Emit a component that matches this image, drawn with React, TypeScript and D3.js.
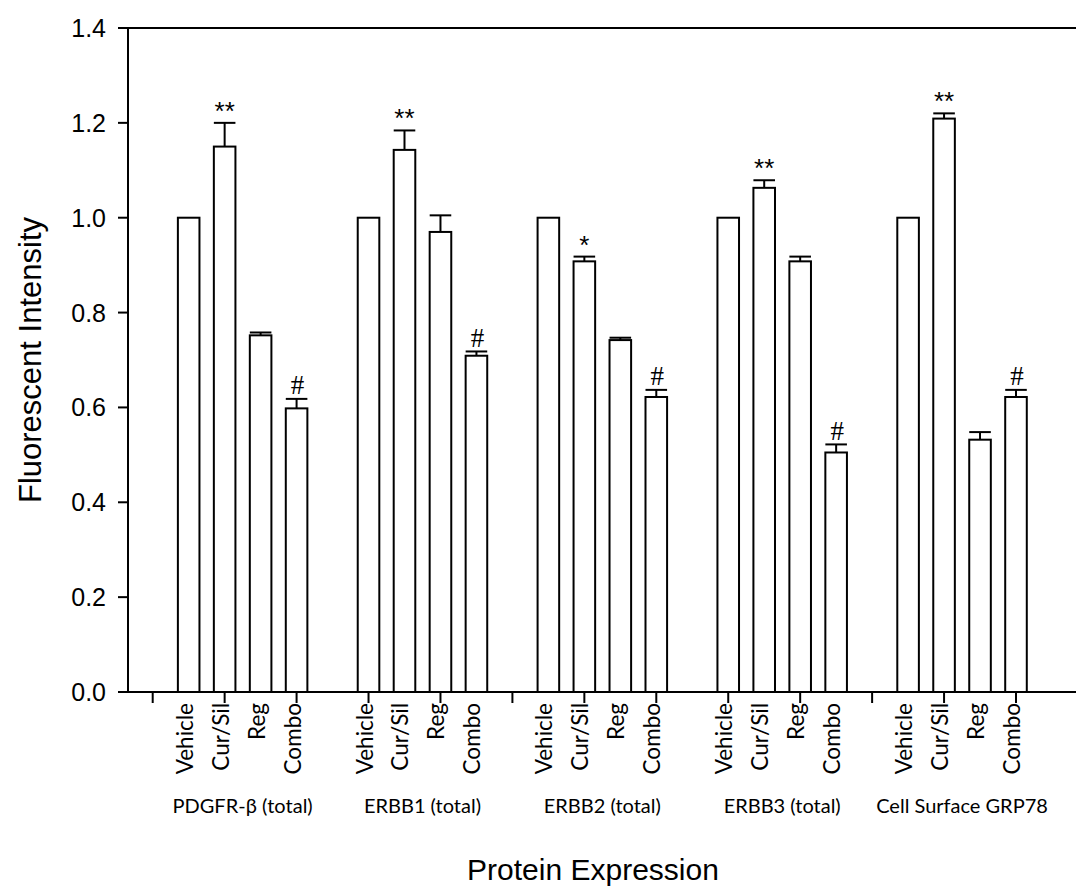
import React from "react";
import * as d3 from "d3";

// Protein groups along the x axis
const groups = ["PDGFR-β (total)", "ERBB1 (total)", "ERBB2 (total)", "ERBB3 (total)", "Cell Surface GRP78"];
// Treatments within each group
const treatments = ["Vehicle", "Cur/Sil", "Reg", "Combo"];

// Mean fluorescent intensity per group, in treatment order
const means = [
  [1.0, 1.15, 0.752, 0.598],
  [1.0, 1.143, 0.970, 0.709],
  [1.0, 0.908, 0.742, 0.622],
  [1.0, 1.063, 0.908, 0.505],
  [1.0, 1.209, 0.532, 0.622],
];
// Standard error per bar
const errors = [
  [0, 0.05, 0.006, 0.02],
  [0, 0.041, 0.035, 0.009],
  [0, 0.01, 0.005, 0.015],
  [0, 0.016, 0.01, 0.017],
  [0, 0.011, 0.016, 0.015],
];
// Significance marks per group, in treatment order
const marks = [
  ["", "**", "", "#"],
  ["", "**", "", "#"],
  ["", "*", "", "#"],
  ["", "**", "", "#"],
  ["", "**", "", "#"],
];

const yTicks = [0, 0.2, 0.4, 0.6, 0.8, 1.0, 1.2, 1.4];
const xTicks = d3.range(-1, 24, 2);

const W = 1076;
const H = 888;

export default function App() {
  const x = d3.scaleLinear().domain([-1, 23]).range([152.7, 1016]);
  const y = d3.scaleLinear().domain([0, 1.4]).range([692, 28]);
  const slot = x(1) - x(0);
  const barW = slot * 0.6;
  const axisX = 128;
  const leftEnd = 118;

  const bars = groups.flatMap((g, gi) =>
    treatments.map((t, ti) => ({
      g: gi,
      t,
      s: gi * 5 + ti,
      v: means[gi][ti],
      e: errors[gi][ti],
      m: marks[gi][ti],
    }))
  );

  const arial = "'Liberation Sans', Arial, sans-serif";
  const humanist = "Lato, 'Open Sans', sans-serif";

  return (
    <svg width={W} height={H} style={{ display: "block", position: "absolute", left: 0, top: 0, background: "#fff" }}>
      <rect x={0} y={0} width={W} height={H} fill="#fff" />
      {/* frame lines */}
      <line x1={leftEnd} x2={W} y1={y(1.4)} y2={y(1.4)} stroke="#000" strokeWidth={2} />
      <line x1={leftEnd} x2={W} y1={y(0)} y2={y(0)} stroke="#000" strokeWidth={2} />
      <line x1={axisX} x2={axisX} y1={y(1.4)} y2={y(0)} stroke="#000" strokeWidth={2} />

      {/* y ticks and labels */}
      {yTicks.map((v) => (
        <g key={v}>
          <line x1={leftEnd} x2={axisX} y1={y(v)} y2={y(v)} stroke="#000" strokeWidth={2} />
          <text x={106} y={y(v)} dy="0.36em" textAnchor="end" fontFamily={arial} fontSize={25} fill="#000">
            {d3.format(".1f")(v)}
          </text>
        </g>
      ))}

      {/* x ticks */}
      {xTicks.map((s) => (
        <line key={s} x1={x(s)} x2={x(s)} y1={y(0)} y2={y(0) + 11} stroke="#000" strokeWidth={2} />
      ))}

      {/* bars */}
      {bars.map((b) => {
        const cx = x(b.s);
        const top = y(b.v);
        const cap = y(b.v + b.e);
        return (
          <g key={`${b.g}-${b.t}`}>
            {b.e > 0 && (
              <g stroke="#000" strokeWidth={2}>
                <line x1={cx} x2={cx} y1={top} y2={cap} />
                <line x1={cx - barW / 2} x2={cx + barW / 2} y1={cap} y2={cap} />
              </g>
            )}
            <rect x={cx - barW / 2} y={top} width={barW} height={y(0) - top} fill="#fff" stroke="#000" strokeWidth={2} />
            {b.m === "#" && (
              <text x={cx + 1} y={cap - 14} dy="0.35em" textAnchor="middle" fontFamily="'Liberation Serif', 'Times New Roman', serif" fontSize={27} fill="#000">
                #
              </text>
            )}
            {b.m.startsWith("*") && (
              <text x={cx} y={cap - 18 + 15} textAnchor="middle" fontFamily={arial} fontSize={26} fill="#000">
                {b.m}
              </text>
            )}
            <text
              transform={`translate(${cx + 4},${703}) rotate(-90)`}
              textAnchor="end"
              fontFamily={humanist}
              fontSize={22.5}
              fill="#000"
            >
              {b.t}
            </text>
          </g>
        );
      })}

      {/* group labels */}
      {groups.map((g, gi) => (
        <text key={g} x={x(gi * 5 + 1.5)} y={813} textAnchor="middle" fontFamily={humanist} fontSize={20} fill="#000">
          {g}
        </text>
      ))}

      {/* axis titles */}
      <text transform={`translate(41,360) rotate(-90)`} textAnchor="middle" fontFamily={arial} fontSize={31} fill="#000">
        Fluorescent Intensity
      </text>
      <text x={593} y={880} textAnchor="middle" fontFamily={arial} fontSize={30} fill="#000">
        Protein Expression
      </text>
    </svg>
  );
}
